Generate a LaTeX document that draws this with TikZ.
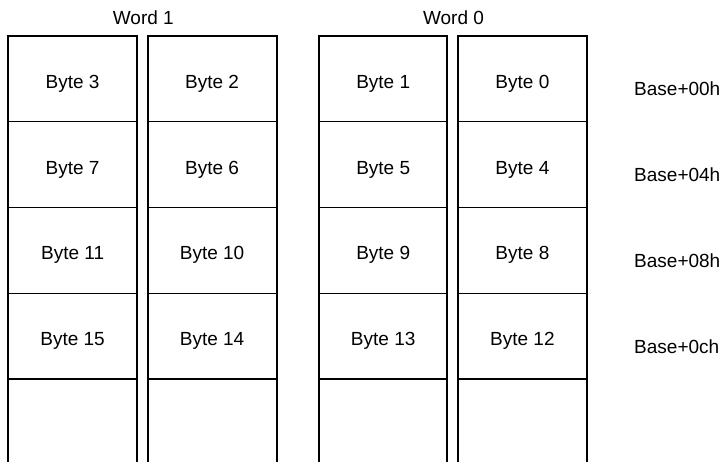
\documentclass[tikz,border=0pt]{standalone}
\usepackage{fontspec}
\setmainfont{Liberation Sans}
\begin{document}
\begin{tikzpicture}[x=1bp,y=-1bp,
  vline/.style={line width=2bp,black},
  hline/.style={line width=1.4bp,black},
  lbl/.style={inner sep=0pt,anchor=base,font=\fontsize{19bp}{23bp}\selectfont},
]
\useasboundingbox (0,0) rectangle (722,462);
% columns: left, right
\foreach \l/\r [count=\c] in {8.3/137,147.5/276.7,319/447.3,458/586.7}{
  \draw[vline] (\l,470) -- (\l,36) -- (\r,36) -- (\r,470);
  \foreach \y in {121.8,207.5,293.3,379}{
    \draw[hline] (\l,\y) -- (\r,\y);
  }
}
% word labels
\node[lbl] (w1) at (143.3,25) {Word 1};
\node[lbl] (w0) at (453.5,25) {Word 0};
% byte labels
\foreach \txt/\x/\y [count=\i] in {
  3/72.6/88.3,2/212.1/88.3,1/383.2/88.3,0/522.4/88.3,
  7/72.6/174.1,6/212.1/174.1,5/383.2/174.1,4/522.4/174.1,
  11/72.6/260,10/212.1/260,9/383.2/260,8/522.4/260,
  15/72.6/345.8,14/212.1/345.8,13/383.2/345.8,12/522.4/345.8}{
  \node[lbl] (b\txt) at (\x,\y) {Byte \txt};
}
% base labels
\node[lbl,anchor=base west] (a0) at (634,96) {Base+00h};
\node[lbl,anchor=base west] (a4) at (634,181.8) {Base+04h};
\node[lbl,anchor=base west] (a8) at (634,267.5) {Base+08h};
\node[lbl,anchor=base west] (ac) at (634,353.3) {Base+0ch};
\end{tikzpicture}
\end{document}
